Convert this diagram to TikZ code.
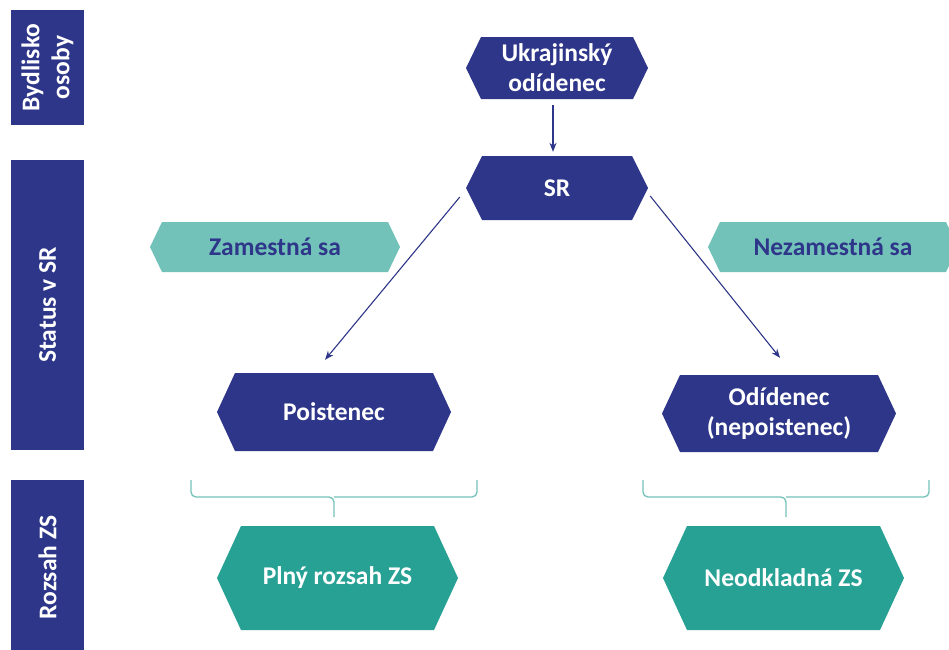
\documentclass[tikz,border=0pt]{standalone}
\usepackage{fontspec}
\setmainfont{Carlito}
\usetikzlibrary{arrows.meta,calc}
\definecolor{navy}{RGB}{46,54,137}
\definecolor{lteal}{RGB}{115,194,185}
\definecolor{dteal}{RGB}{38,161,148}
\newcommand\hexnode[9]{%
  \fill[#7] ($(#2,#3)+(-#4/2,0)$) -- ($(#2,#3)+(-#4/2+#6,-#5/2)$) -- ($(#2,#3)+(#4/2-#6,-#5/2)$) -- ($(#2,#3)+(#4/2,0)$) -- ($(#2,#3)+(#4/2-#6,#5/2)$) -- ($(#2,#3)+(-#4/2+#6,#5/2)$) -- cycle;
  \node[hexlabel, text=#8, minimum width=#4, minimum height=#5] (#1) at (#2,#3) {#9};}
\begin{document}
\begin{tikzpicture}[x=1pt,y=-1pt,
  hexlabel/.style={inner sep=0pt, align=center, font=\bfseries\fontsize{25.5}{30}\selectfont},
  sidebar/.style={fill=navy, text=white, inner sep=0pt, rotate=90, minimum height=73, align=center, font=\bfseries\fontsize{25.5}{30}\selectfont},
  arr/.style={draw=navy, line width=1.1pt, -{Stealth[length=9pt,width=7pt]}},
  bracket/.style={draw=lteal, line width=1.3pt, rounded corners=5pt}]
\useasboundingbox (0,0) rectangle (949,649);
\clip (0,0) rectangle (949,649);
% side bars
\node[sidebar, minimum width=115] (byd) at (47.5,67.5) {Bydlisko\\osoby};
\node[sidebar, minimum width=290] (stat) at (47.5,305) {Status v SR};
\node[sidebar, minimum width=175] (roz) at (47.5,567.5) {Rozsah ZS};
% hexagons
\hexnode{ukr}{557}{68}{182}{62}{15}{navy}{white}{Ukrajinský\\odídenec}
\hexnode{sr}{557}{188}{182}{64}{16}{navy}{white}{SR}
\hexnode{zam}{275}{247}{250}{50}{12}{lteal}{navy}{Zamestná sa}
\hexnode{nezam}{833}{247}{250}{50}{12}{lteal}{navy}{Nezamestná sa}
\hexnode{poist}{334}{412}{234}{78}{18}{navy}{white}{Poistenec}
\hexnode{odid}{779}{413.5}{234}{77}{18}{navy}{white}{Odídenec\\(nepoistenec)}
\hexnode{plny}{337.5}{578}{241}{104}{24}{dteal}{white}{Plný rozsah ZS}
\hexnode{neod}{783.5}{578}{241}{104}{24}{dteal}{white}{Neodkladná ZS}
% arrows
\draw[arr] ([shift={(-4,6)}]ukr.south) -- ([shift={(-4,-4)}]sr.north);
\draw[arr] ([shift={(-6,9)}]sr.west) -- ([shift={(-9,-13)}]poist.north);
\draw[arr] ([shift={(2,8)}]sr.east) -- ([shift={(1,-17)}]odid.north);
% brackets
\draw[bracket] (191,480) -- (191,497) -- (334,497) -- (334,517);
\draw[bracket] (477,480) -- (477,497) -- (334,497);
\draw[bracket] (643,480) -- (643,497) -- (786,497) -- (786,517);
\draw[bracket] (929,480) -- (929,497) -- (786,497);
\end{tikzpicture}
\end{document}
